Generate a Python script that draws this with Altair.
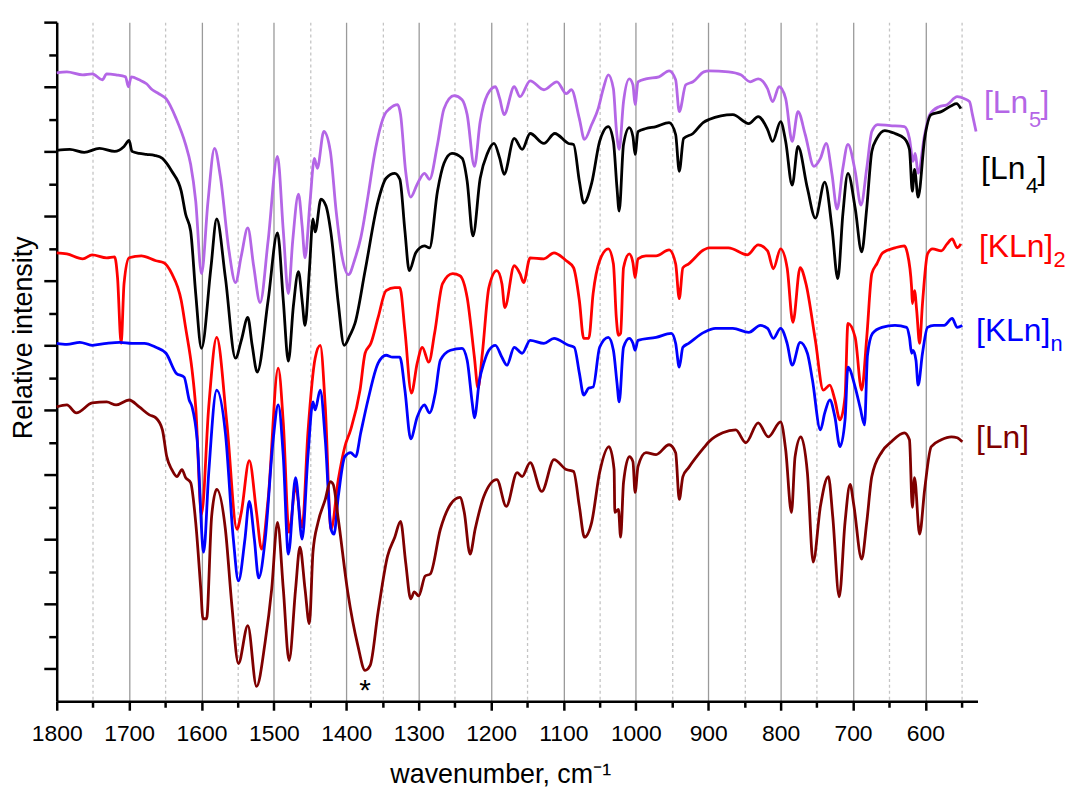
import altair as alt
import pandas as pd

# ---- spectra: (wavenumber cm^-1, relative intensity a.u.) ----
LN5 = [(1800, 632), (1786, 633), (1764, 630), (1751, 631), (1737, 625), (1731, 631), (1718, 630),
       (1705, 628), (1701, 618), (1697, 628), (1686, 625), (1676, 621), (1668, 615), (1659, 611),
       (1649, 606), (1635, 586), (1622, 560), (1615, 540), (1608, 503), (1600, 430), (1591, 503),
       (1582, 556), (1574, 528), (1562, 453), (1553, 421), (1545, 448), (1536, 476), (1528, 438),
       (1519, 401), (1508, 463), (1495, 548), (1487, 473), (1480, 410), (1474, 463), (1466, 510),
       (1461, 478), (1457, 446), (1450, 503), (1444, 546), (1440, 536), (1431, 573), (1422, 553),
       (1414, 493), (1406, 448), (1397, 429), (1388, 445), (1380, 466), (1370, 508), (1361, 550),
       (1347, 590), (1340, 596), (1329, 600), (1325, 590), (1318, 533), (1311, 507), (1302, 520),
       (1292, 531), (1285, 525), (1274, 560), (1265, 596), (1251, 609), (1240, 605), (1233, 590),
       (1223, 538), (1215, 583), (1205, 610), (1194, 618), (1188, 606), (1182, 590), (1168, 618),
       (1160, 608), (1146, 624), (1127, 615), (1109, 623), (1096, 611), (1089, 615), (1078, 586),
       (1071, 565), (1061, 580), (1052, 596), (1045, 616), (1038, 630), (1031, 616), (1027, 576),
       (1023, 555), (1017, 603), (1009, 626), (1004, 620), (1001, 600), (997, 623), (986, 626),
       (968, 628), (954, 634), (945, 625), (940, 593), (931, 620), (921, 623), (906, 633),
       (899, 634), (872, 633), (855, 630), (842, 623), (831, 626), (818, 616), (811, 603),
       (802, 618), (793, 606), (784, 563), (776, 593), (766, 570), (754, 538), (745, 546),
       (737, 561), (729, 530), (722, 495), (714, 536), (707, 560), (697, 533), (689, 499),
       (681, 536), (674, 573), (666, 580), (649, 579), (629, 578), (622, 566), (617, 543),
       (614, 551), (610, 531), (601, 570), (594, 590), (581, 598), (570, 600), (556, 608),
       (546, 606), (539, 603), (535, 590), (530, 573)]

LN4 = [(1800, 554), (1782, 555), (1762, 552), (1741, 556), (1720, 553), (1707, 558), (1700, 564),
       (1696, 553), (1686, 551), (1676, 550), (1665, 549), (1654, 546), (1648, 541), (1641, 533),
       (1628, 513), (1622, 490), (1615, 473), (1608, 410), (1600, 355), (1587, 436), (1579, 485),
       (1567, 426), (1553, 345), (1545, 363), (1536, 386), (1530, 358), (1523, 331), (1508, 403),
       (1495, 471), (1487, 403), (1480, 342), (1473, 398), (1466, 432), (1461, 403), (1457, 378),
       (1451, 433), (1446, 485), (1443, 472), (1435, 505), (1428, 498), (1421, 470), (1411, 400),
       (1403, 358), (1395, 368), (1388, 380), (1374, 433), (1356, 503), (1345, 526), (1333, 531),
       (1326, 525), (1319, 473), (1313, 433), (1304, 451), (1292, 458), (1285, 456), (1274, 513),
       (1265, 541), (1254, 551), (1240, 546), (1233, 523), (1225, 468), (1215, 526), (1205, 551),
       (1196, 561), (1188, 546), (1182, 530), (1168, 566), (1157, 555), (1146, 571), (1127, 561),
       (1112, 571), (1093, 561), (1086, 560), (1078, 523), (1072, 501), (1061, 521), (1050, 563),
       (1038, 578), (1031, 563), (1026, 516), (1023, 493), (1017, 560), (1009, 577), (1004, 568),
       (1001, 550), (997, 573), (986, 576), (972, 578), (954, 582), (945, 570), (940, 533),
       (934, 566), (921, 571), (907, 582), (899, 585), (866, 590), (844, 581), (831, 588),
       (818, 575), (811, 563), (800, 583), (793, 563), (784, 519), (776, 558), (763, 516),
       (752, 486), (739, 522), (729, 476), (721, 425), (714, 490), (707, 531), (697, 496),
       (688, 452), (681, 496), (674, 553), (667, 566), (656, 574), (642, 571), (629, 566),
       (622, 555), (618, 513), (615, 535), (610, 507), (601, 566), (592, 590), (578, 593),
       (564, 599), (557, 601), (551, 596)]

KLN2 = [(1800, 451), (1786, 450), (1764, 445), (1751, 449), (1731, 446), (1720, 447), (1716, 426),
        (1711, 360), (1707, 420), (1700, 446), (1683, 448), (1663, 443), (1652, 441), (1641, 430),
        (1628, 403), (1622, 376), (1613, 333), (1608, 296), (1600, 188), (1590, 296), (1579, 366),
        (1565, 280), (1551, 173), (1545, 190), (1534, 242), (1524, 190), (1517, 153), (1508, 203),
        (1494, 335), (1487, 280), (1479, 170), (1470, 216), (1461, 175), (1453, 270), (1443, 345),
        (1436, 358), (1429, 296), (1421, 173), (1411, 223), (1402, 256), (1394, 273), (1381, 313),
        (1374, 350), (1366, 360), (1356, 386), (1345, 413), (1333, 416), (1326, 416), (1319, 373),
        (1310, 310), (1302, 340), (1295, 356), (1286, 341), (1278, 370), (1267, 420), (1253, 430),
        (1243, 428), (1233, 406), (1223, 346), (1218, 315), (1212, 350), (1203, 416), (1192, 433),
        (1185, 420), (1181, 396), (1168, 438), (1160, 430), (1155, 421), (1146, 446), (1127, 445),
        (1113, 451), (1096, 443), (1086, 436), (1078, 403), (1072, 365), (1065, 365), (1059, 410),
        (1050, 443), (1038, 455), (1031, 440), (1027, 386), (1024, 368), (1021, 370), (1017, 436),
        (1009, 450), (1004, 441), (1001, 426), (997, 445), (986, 448), (972, 448), (954, 454),
        (945, 440), (940, 405), (935, 436), (927, 440), (906, 454), (899, 456), (872, 456),
        (846, 449), (831, 459), (818, 453), (810, 435), (800, 455), (791, 436), (783, 381),
        (773, 436), (765, 420), (752, 363), (741, 313), (732, 318), (725, 303), (718, 283),
        (711, 306), (707, 380), (697, 366), (688, 313), (681, 366), (674, 430), (667, 440),
        (659, 451), (642, 456), (629, 458), (625, 451), (619, 416), (618, 400), (615, 413),
        (612, 393), (608, 360), (604, 400), (597, 450), (590, 455), (578, 453), (570, 460),
        (563, 465), (556, 456), (551, 460)]

KLNN = [(1800, 360), (1786, 359), (1768, 361), (1751, 358), (1731, 360), (1713, 361), (1696, 360),
        (1679, 360), (1663, 356), (1649, 350), (1635, 330), (1624, 326), (1617, 303), (1613, 296),
        (1606, 263), (1597, 150), (1590, 230), (1579, 313), (1567, 270), (1556, 163), (1549, 121),
        (1540, 163), (1534, 201), (1527, 163), (1521, 124), (1512, 163), (1501, 263), (1494, 298),
        (1487, 246), (1480, 148), (1470, 225), (1461, 163), (1453, 246), (1446, 301), (1443, 293),
        (1436, 313), (1429, 263), (1421, 173), (1417, 168), (1411, 206), (1402, 246), (1394, 250),
        (1387, 246), (1380, 270), (1370, 303), (1356, 340), (1345, 348), (1336, 346), (1326, 346),
        (1319, 313), (1311, 264), (1302, 286), (1292, 298), (1285, 290), (1277, 310), (1270, 343),
        (1256, 353), (1240, 355), (1233, 343), (1226, 300), (1223, 285), (1216, 323), (1210, 340),
        (1203, 353), (1194, 358), (1185, 346), (1178, 338), (1168, 356), (1157, 350), (1146, 363),
        (1127, 360), (1113, 365), (1093, 358), (1085, 356), (1078, 330), (1072, 308), (1065, 315),
        (1059, 316), (1050, 356), (1038, 366), (1031, 353), (1026, 320), (1023, 301), (1017, 356),
        (1009, 365), (1004, 360), (1001, 353), (997, 363), (972, 366), (951, 370), (945, 360),
        (940, 336), (935, 356), (927, 360), (906, 371), (890, 375), (866, 375), (844, 371),
        (828, 378), (818, 375), (810, 365), (800, 375), (791, 360), (784, 338), (773, 361),
        (763, 350), (756, 323), (745, 273), (739, 290), (732, 303), (725, 286), (718, 256),
        (711, 283), (707, 336), (697, 316), (690, 295), (684, 278), (680, 348), (673, 370),
        (660, 376), (642, 378), (626, 376), (622, 366), (619, 350), (617, 353), (613, 343),
        (610, 318), (604, 350), (597, 376), (588, 378), (574, 378), (563, 385), (556, 376),
        (549, 378)]

LN = [(1800, 296), (1786, 298), (1773, 290), (1751, 300), (1731, 301), (1718, 298), (1700, 303),
      (1686, 296), (1672, 288), (1663, 285), (1654, 273), (1648, 246), (1641, 233), (1634, 226),
      (1627, 233), (1622, 225), (1615, 220), (1608, 180), (1601, 113), (1598, 83), (1593, 83),
      (1586, 186), (1579, 213), (1567, 173), (1558, 96), (1549, 38), (1536, 76), (1524, 15),
      (1512, 60), (1503, 113), (1495, 180), (1487, 113), (1479, 41), (1470, 113), (1464, 155),
      (1457, 113), (1451, 78), (1446, 150), (1439, 180), (1429, 203), (1422, 221), (1418, 218),
      (1411, 183), (1398, 110), (1384, 56), (1374, 31), (1367, 36), (1356, 90), (1343, 146),
      (1333, 165), (1325, 181), (1318, 140), (1311, 103), (1306, 110), (1300, 106), (1291, 126),
      (1284, 128), (1270, 173), (1256, 198), (1243, 205), (1237, 190), (1229, 148), (1222, 173),
      (1210, 206), (1192, 223), (1179, 196), (1164, 230), (1157, 226), (1146, 240), (1130, 211),
      (1113, 243), (1096, 233), (1086, 231), (1078, 196), (1071, 165), (1061, 180), (1050, 230),
      (1037, 256), (1030, 233), (1029, 190), (1024, 193), (1021, 165), (1017, 220), (1009, 246),
      (1004, 241), (1001, 210), (997, 236), (986, 250), (972, 248), (954, 258), (945, 250),
      (940, 203), (935, 226), (927, 235), (906, 255), (899, 261), (880, 270), (862, 273),
      (848, 260), (831, 280), (817, 266), (800, 281), (793, 253), (785, 190), (780, 246),
      (772, 266), (763, 230), (755, 140), (745, 196), (734, 226), (728, 186), (719, 105),
      (711, 180), (704, 218), (699, 198), (688, 143), (681, 180), (674, 226), (660, 251),
      (647, 261), (629, 270), (622, 263), (618, 195), (615, 225), (608, 168), (601, 213),
      (592, 256), (578, 263), (564, 266), (556, 265), (549, 261)]

SERIES_NAMES = ["Ln5", "Ln4", "KLn2", "KLnn", "Ln"]
SERIES_COLORS = ["#b466e6", "#000000", "#ff0000", "#0000ff", "#7f0000"]

# right-hand labels (main text and subscripts)
LABEL_TEXT = ["[Ln", "]", "[Ln", "]", "[KLn]", "[KLn]", "[Ln]"]
LABEL_SERIES = ["Ln5", "Ln5", "Ln4", "Ln4", "KLn2", "KLnn", "Ln"]
LABEL_WN = [519, 441, 523, 445, 526, 530, 530]
LABEL_Y = [592, 592, 525, 525, 447, 362, 255]
SUB_TEXT = ["5", "4", "2", "n"]
SUB_SERIES = ["Ln5", "Ln4", "KLn2", "KLnn"]
SUB_WN = [457, 461, 423, 427]
SUB_Y = [578, 511, 437, 352]
STAR = [(1374, 1)]

X_DOMAIN = [528, 1800]
Y_DOMAIN = [0, 683]
X_TICKS = list(range(1800, 549, -50))
Y_TICKS = [round(683 - 32.52 * k, 2) for k in range(21)]

rows = []
for name, pts in zip(SERIES_NAMES, [LN5, LN4, KLN2, KLNN, LN]):
    for i, (w, v) in enumerate(pts):
        rows.append({"series": name, "wn": w, "intensity": v, "idx": i})
spectra = pd.DataFrame(rows)

labels = pd.DataFrame({"text": LABEL_TEXT, "series": LABEL_SERIES, "wn": LABEL_WN, "intensity": LABEL_Y})
subs = pd.DataFrame({"text": SUB_TEXT, "series": SUB_SERIES, "wn": SUB_WN, "intensity": SUB_Y})
star = pd.DataFrame({"text": ["*"], "wn": [STAR[0][0]], "intensity": [STAR[0][1]]})

major_x = "datum.value % 100 == 0"
x_axis = alt.Axis(
    values=X_TICKS, format="d",
    labelExpr="datum.value % 100 == 0 ? datum.label : ''",
    labelFlush=False, labelOverlap=False, labelPadding=12,
    tickSize={"condition": {"test": major_x, "value": 9}, "value": 6},
    grid=True,
    gridColor={"condition": {"test": major_x, "value": "#9a9a9a"}, "value": "#c4c4c4"},
    gridDash={"condition": {"test": major_x, "value": [1, 0]}, "value": [3, 3]},
    gridWidth=1.3,
    title="wavenumber, cm⁻¹", titlePadding=17, titleX=446,
)
major_y = "round((683 - datum.value) / 32.52) % 2 == 0"
y_axis = alt.Axis(
    values=Y_TICKS, labels=False, grid=False,
    tickSize={"condition": {"test": major_y, "value": 13}, "value": 8},
    title="Relative intensity", titlePadding=5, titleY=317,
)

x_enc = alt.X("wn:Q", scale=alt.Scale(domain=X_DOMAIN, reverse=True, nice=False, zero=False), axis=x_axis)
y_enc = alt.Y("intensity:Q", scale=alt.Scale(domain=Y_DOMAIN, nice=False, zero=False), axis=y_axis)
c_enc = alt.Color("series:N", scale=alt.Scale(domain=SERIES_NAMES, range=SERIES_COLORS), legend=None)

lines = alt.Chart(spectra).mark_line(strokeWidth=2.8, interpolate="monotone").encode(
    x=x_enc, y=y_enc, color=c_enc, detail="series:N", order="idx:Q"
)
lab = alt.Chart(labels).mark_text(align="left", baseline="alphabetic", font="Liberation Sans", fontSize=32).encode(
    x=x_enc, y=y_enc, color=c_enc, text="text:N"
)
sub = alt.Chart(subs).mark_text(align="left", baseline="alphabetic", font="Liberation Sans", fontSize=22).encode(
    x=x_enc, y=y_enc, color=c_enc, text="text:N"
)
st = alt.Chart(star).mark_text(align="center", baseline="alphabetic", font="Liberation Sans", fontSize=30, color="black").encode(
    x=x_enc, y=y_enc, text="text:N"
)

chart = alt.layer(lines, lab, sub, st).properties(
    width=926, height=683,
    autosize=alt.AutoSizeParams(type="none"),
    padding={"left": 49, "top": 12, "right": 88, "bottom": 85},
).configure_view(stroke=None).configure_axis(
    domainColor="black", domainWidth=2.5, tickColor="black", tickWidth=2.5,
    labelFont="Liberation Sans", labelFontSize=23, labelColor="black",
    titleFont="Liberation Sans", titleFontSize=27, titleFontWeight="normal", titleColor="black",
)

chart.save("out.html", embed_options={"renderer": "svg", "actions": False})
